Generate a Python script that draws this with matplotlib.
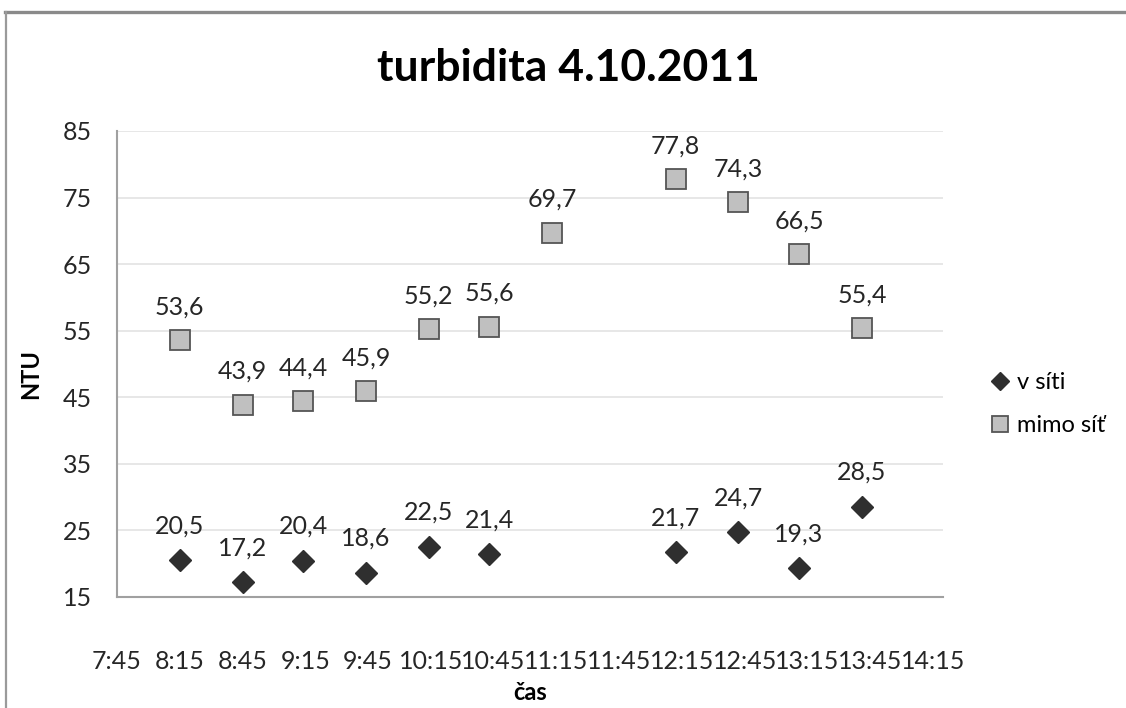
import matplotlib
matplotlib.use("Agg")
import matplotlib.pyplot as plt
from matplotlib.lines import Line2D

# Measurement times (h:mm) and turbidity values in NTU
times_v_siti = ["8:15", "8:45", "9:14", "9:44", "10:14", "10:43", "12:12", "12:42", "13:11", "13:41"]
v_siti = [20.5, 17.2, 20.4, 18.6, 22.5, 21.4, 21.7, 24.7, 19.3, 28.5]

times_mimo = ["8:15", "8:45", "9:14", "9:44", "10:14", "10:43", "11:13", "12:12", "12:42", "13:11", "13:41"]
mimo_sit = [53.6, 43.9, 44.4, 45.9, 55.2, 55.6, 69.7, 77.8, 74.3, 66.5, 55.4]

tick_labels = ["7:45", "8:15", "8:45", "9:15", "9:45", "10:15", "10:45",
               "11:15", "11:45", "12:15", "12:45", "13:15", "13:45", "14:15"]
y_ticks = [15, 25, 35, 45, 55, 65, 75, 85]


def to_min(t):
    h, m = t.split(":")
    return int(h) * 60 + int(m)


def fmt(v):
    return f"{v:.1f}".replace(".", ",")


FONT = "Lato"
plt.rcParams["font.family"] = [FONT, "DejaVu Sans"]
TXT = "#262626"
FS = 18

fig = plt.figure(figsize=(11.26, 7.08), dpi=100)
fig.patch.set_facecolor("white")

# chart frame edges (top and left)
fig.add_artist(Line2D([5 / 1126, 1.0], [1 - 12 / 708, 1 - 12 / 708],
                      transform=fig.transFigure, color="#8a8a8a", linewidth=2.4))
fig.add_artist(Line2D([5.5 / 1126, 5.5 / 1126], [0.0, 1 - 12 / 708],
                      transform=fig.transFigure, color="#9a9a9a", linewidth=1.6))

ax = fig.add_axes([117 / 1126, 1 - 597 / 708, (943 - 117) / 1126, (597 - 131) / 708])

xv = [to_min(t) for t in times_v_siti]
xm = [to_min(t) for t in times_mimo]

ax.plot(xv, v_siti, linestyle="none", marker="D", markersize=11.5,
        markerfacecolor="#2f2f2f", markeredgecolor="#2f2f2f", zorder=3)
ax.plot(xm, mimo_sit, linestyle="none", marker="s", markersize=14,
        markerfacecolor="#c0c0c0", markeredgecolor="#555555", markeredgewidth=1.3, zorder=3)

for x, v in zip(xv, v_siti):
    ax.annotate(fmt(v), (x, v), xytext=(0, 25), textcoords="offset points",
                ha="center", va="center", fontsize=FS, color=TXT)
for x, v in zip(xm, mimo_sit):
    ax.annotate(fmt(v), (x, v), xytext=(0, 24), textcoords="offset points",
                ha="center", va="center", fontsize=FS, color=TXT)

x_ticks = [to_min(t) for t in tick_labels]
ax.set_xticks(x_ticks)
ax.set_xticklabels(tick_labels)
ax.set_xlim(to_min("7:45"), to_min("14:15") + 4.8)
ax.set_ylim(15, 85)
ax.set_yticks(y_ticks)

ax.tick_params(axis="both", length=0, labelsize=FS, colors=TXT)
ax.tick_params(axis="x", pad=38)
ax.tick_params(axis="y", pad=18)

ax.grid(axis="y", color="#e3e3e3", linewidth=1.2)
ax.set_axisbelow(True)
for s in ["top", "right"]:
    ax.spines[s].set_visible(False)
for s in ["left", "bottom"]:
    ax.spines[s].set_color("#a0a0a0")
    ax.spines[s].set_linewidth(1.5)

fig.text(568 / 1126, 1 - 68 / 708, "turbidita 4.10.2011", ha="center", va="center",
         fontsize=32, fontweight="bold", color="black")
fig.text(31 / 1126, 1 - 374 / 708, "NTU", ha="center", va="center", rotation=90,
         fontsize=17, fontweight="bold", color="black")
fig.text(530 / 1126, 1 - 692 / 708, "čas", ha="center", va="center",
         fontsize=17, fontweight="bold", color="black")

handles = [
    Line2D([], [], linestyle="none", marker="D", markersize=9,
           markerfacecolor="#2f2f2f", markeredgecolor="#2f2f2f"),
    Line2D([], [], linestyle="none", marker="s", markersize=12,
           markerfacecolor="#c0c0c0", markeredgecolor="#555555", markeredgewidth=1.3),
]
fig.legend(handles, ["v síti", "mimo síť"], loc="center left",
           bbox_to_anchor=(992 / 1126, 1 - 404 / 708), frameon=False,
           fontsize=17, handlelength=0.7, handletextpad=0.35, labelspacing=0.95,
           borderaxespad=0, borderpad=0)

fig.savefig("out.png", dpi=100, facecolor="white")
